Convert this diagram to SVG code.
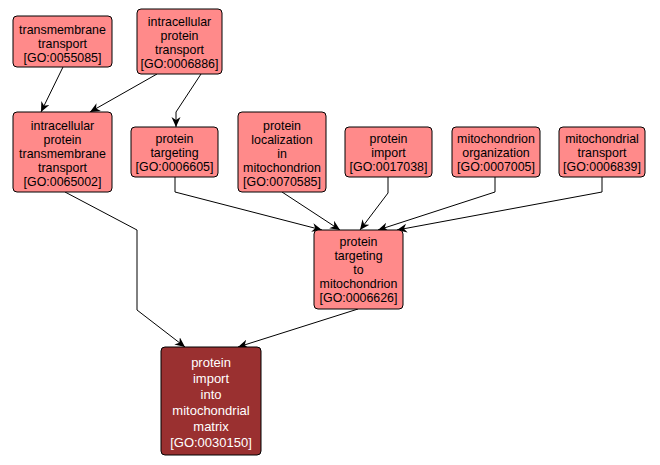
<svg xmlns="http://www.w3.org/2000/svg" width="660" height="465" viewBox="0 0 660 465">
<defs>
<style>
.n rect{fill:#ff8a8a;stroke:#000;stroke-width:1}
.n text{font-family:"Liberation Sans",Arial,sans-serif;font-size:12.4px;fill:#000;text-anchor:middle}
.d rect{fill:#9a3030;stroke:#000;stroke-width:1}
.d text{font-family:"Liberation Sans",Arial,sans-serif;font-size:13px;fill:#fff;text-anchor:middle}
.e path{fill:none;stroke:#000;stroke-width:1;marker-end:url(#a)}
</style>
<marker id="a" markerUnits="userSpaceOnUse" markerWidth="12" markerHeight="10" refX="10" refY="4.5" orient="auto" viewBox="0 0 12 10">
<path d="M0,0 L10,4.5 L0,9 L3,4.5 z" fill="#000"/>
</marker>
</defs>
<rect width="660" height="465" fill="#fff"/>
<g id="edges" class="e">
<path d="M63,67 L41,112"/>
<path d="M157,74 L90,112"/>
<path d="M201,74 L176,112 L176,127"/>
<path d="M65,192 L137,230 L137,310 L185,347"/>
<path d="M175,177 L175,192 L322,230"/>
<path d="M282,192 L340,230"/>
<path d="M388,177 L388,193 L360,230"/>
<path d="M495,177 L495,192 L378,230"/>
<path d="M602,177 L602,192 L397,230"/>
<path d="M358,309 L238,347"/>
</g>
<g id="n1" class="n"><rect x="13" y="16" width="99" height="51" rx="4"/><text x="62.5" y="33.5">transmembrane</text><text x="62.5" y="47.5">transport</text><text x="62.5" y="61.5">[GO:0055085]</text></g>
<g id="n2" class="n"><rect x="137" y="9" width="85" height="65" rx="4"/><text x="179.5" y="25.5">intracellular</text><text x="179.5" y="39.5">protein</text><text x="179.5" y="53.5">transport</text><text x="179.5" y="67.5">[GO:0006886]</text></g>
<g id="n3" class="n"><rect x="13" y="112" width="99" height="80" rx="4"/><text x="62.5" y="130">intracellular</text><text x="62.5" y="144">protein</text><text x="62.5" y="158">transmembrane</text><text x="62.5" y="172">transport</text><text x="62.5" y="186">[GO:0065002]</text></g>
<g id="n4" class="n"><rect x="131" y="127" width="87" height="50" rx="4"/><text x="174.5" y="143">protein</text><text x="174.5" y="157">targeting</text><text x="174.5" y="171">[GO:0006605]</text></g>
<g id="n5" class="n"><rect x="238" y="112" width="88" height="80" rx="4"/><text x="282" y="130">protein</text><text x="282" y="144">localization</text><text x="282" y="158">in</text><text x="282" y="172">mitochondrion</text><text x="282" y="186">[GO:0070585]</text></g>
<g id="n6" class="n"><rect x="345" y="127" width="87" height="50" rx="4"/><text x="388.5" y="143">protein</text><text x="388.5" y="157">import</text><text x="388.5" y="171">[GO:0017038]</text></g>
<g id="n7" class="n"><rect x="452" y="127" width="88" height="50" rx="4"/><text x="496" y="143">mitochondrion</text><text x="496" y="157">organization</text><text x="496" y="171">[GO:0007005]</text></g>
<g id="n8" class="n"><rect x="559" y="127" width="86" height="50" rx="4"/><text x="602" y="143">mitochondrial</text><text x="602" y="157">transport</text><text x="602" y="171">[GO:0006839]</text></g>
<g id="n9" class="n"><rect x="314" y="230" width="89" height="79" rx="4"/><text x="358.5" y="246">protein</text><text x="358.5" y="260">targeting</text><text x="358.5" y="274">to</text><text x="358.5" y="288">mitochondrion</text><text x="358.5" y="302">[GO:0006626]</text></g>
<g id="n10" class="d"><rect x="161" y="347" width="100" height="108" rx="4"/><text x="211" y="367">protein</text><text x="211" y="383">import</text><text x="211" y="399">into</text><text x="211" y="415">mitochondrial</text><text x="211" y="431">matrix</text><text x="211" y="447">[GO:0030150]</text></g>
</svg>
